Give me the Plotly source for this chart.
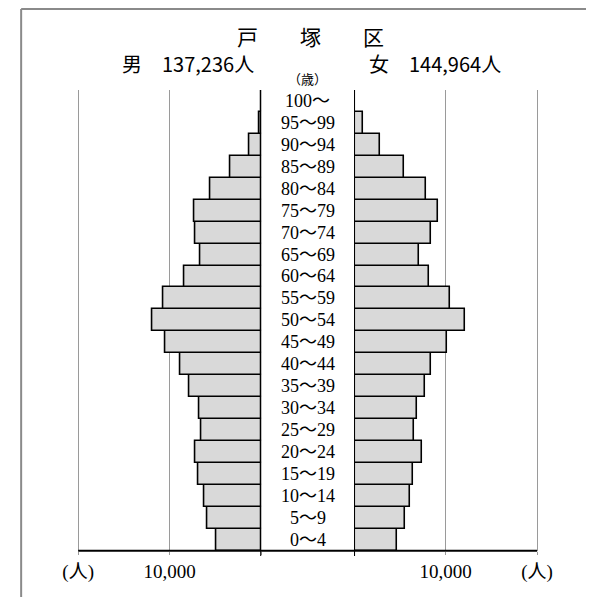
import plotly.graph_objects as go

ages = ["0～4", "5～9", "10～14", "15～19", "20～24", "25～29", "30～34", "35～39",
        "40～44", "45～49", "50～54", "55～59", "60～64", "65～69", "70～74", "75～79",
        "80～84", "85～89", "90～94", "95～99", "100～"]
male = [4880, 5860, 6180, 6840, 7150, 6520, 6810, 7810, 8800, 10430, 11900, 10740,
        8440, 6630, 7150, 7330, 5510, 3380, 1260, 150, 20]
female = [4740, 5580, 6110, 6420, 7400, 6560, 6870, 7710, 8380, 10160, 12150, 10470,
          8230, 7050, 8380, 9180, 7850, 5440, 2790, 970, 50]
tick_vals = [20000, 10000, 0]
tick_text = ["(人)", "10,000", ""]
title = "戸　　塚　　区"
male_label = "男　137,236人"
female_label = "女　144,964人"
unit_label = "（歳）"

W, H = 600, 597
def px(x):
    return x / W
def py(y):
    return 1 - y / H

SERIF = "Liberation Serif, DejaVu Serif, Noto Sans CJK JP"
SANS = "Noto Sans CJK JP, Noto Sans"

fig = go.Figure()
fig.add_trace(go.Bar(y=ages, x=male, orientation="h", xaxis="x", yaxis="y",
                     marker=dict(color="#d9d9d9", line=dict(color="black", width=1.6)),
                     showlegend=False, hoverinfo="x+y"))
fig.add_trace(go.Bar(y=ages, x=female, orientation="h", xaxis="x2", yaxis="y",
                     marker=dict(color="#d9d9d9", line=dict(color="black", width=1.6)),
                     showlegend=False, hoverinfo="x+y"))

left0, right0 = 259.3, 356.7
span = 193.9  # px for 20200
axis_common = dict(tickvals=tick_vals, ticktext=tick_text, showgrid=True,
                   gridcolor="#9a9a9a", gridwidth=1, zeroline=False, showline=False,
                   ticks="outside", ticklen=3, tickcolor="#9a9a9a", tickwidth=1,
                   tickfont=dict(family=SERIF, size=19, color="black"),
                   fixedrange=True)
fig.update_layout(
    width=W, height=H,
    margin=dict(l=0, r=0, t=0, b=0),
    paper_bgcolor="white", plot_bgcolor="white",
    bargap=0,
    xaxis=dict(domain=[px(left0 - span), px(left0)], range=[20200, 0], anchor="y",
               **axis_common),
    xaxis2=dict(domain=[px(right0), px(right0 + span)], range=[0, 20200], anchor="y",
                **axis_common),
    yaxis=dict(domain=[py(550.7), py(90)], range=[-0.5, 20.5], type="category",
               categoryorder="array", categoryarray=ages,
               showticklabels=False, showgrid=False, zeroline=False, ticks="",
               fixedrange=True),
)

annotations = []
for a in ages:
    annotations.append(dict(x=px(308), xref="paper", y=a, yref="y", text=a,
                            showarrow=False, xanchor="center", yanchor="middle",
                            font=dict(family=SERIF, size=18, color="black")))
annotations += [
    dict(x=px(311), y=py(36), xref="paper", yref="paper", text=title, showarrow=False,
         xanchor="center", yanchor="middle", font=dict(family=SANS, size=21, color="black")),
    dict(x=px(182.5), y=py(63.5), xref="paper", yref="paper", text=male_label, showarrow=False,
         xanchor="center", yanchor="middle", font=dict(family=SANS, size=20, color="black")),
    dict(x=px(441.5), y=py(63.5), xref="paper", yref="paper", text=female_label, showarrow=False,
         xanchor="center", yanchor="middle", font=dict(family=SANS, size=20, color="black")),
    dict(x=px(307.5), y=py(78), xref="paper", yref="paper", text=unit_label, showarrow=False,
         xanchor="center", yanchor="middle", font=dict(family=SANS, size=13, color="black")),
]
fig.update_layout(annotations=annotations)

shapes = [
    # frame (top and left)
    dict(type="line", xref="paper", yref="paper", x0=px(7.5), x1=1, y0=py(9), y1=py(9),
         line=dict(color="#8a8a8a", width=2)),
    dict(type="line", xref="paper", yref="paper", x0=px(7.5), x1=px(7.5), y0=py(9), y1=0,
         line=dict(color="#8a8a8a", width=2)),
    # baseline
    dict(type="line", xref="paper", yref="paper", x0=px(67.3), x1=px(548.7),
         y0=py(550.7), y1=py(550.7), line=dict(color="black", width=2)),
    # center lines
    dict(type="line", xref="x", yref="paper", x0=0, x1=0, y0=py(556), y1=py(90),
         line=dict(color="black", width=2)),
    dict(type="line", xref="x2", yref="paper", x0=0, x1=0, y0=py(556), y1=py(90),
         line=dict(color="black", width=2)),
]
fig.update_layout(shapes=shapes)

fig.write_html("out.html", config={"displayModeBar": False},
               post_script="document.body.style.margin='0px';document.body.style.overflow='hidden';")
